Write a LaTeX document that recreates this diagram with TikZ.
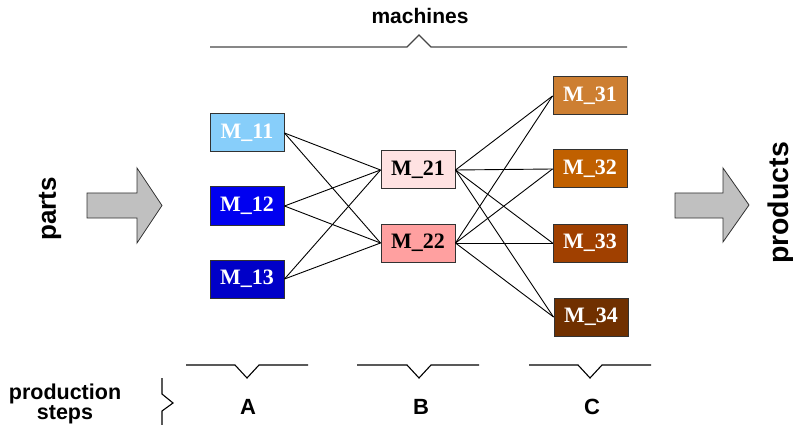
\documentclass[tikz,border=0pt]{standalone}
\usepackage{fontspec}
\setmainfont{Liberation Serif}
\setsansfont{Liberation Sans}
\definecolor{c11}{RGB}{135,206,250}
\definecolor{c12}{RGB}{0,0,240}
\definecolor{c13}{RGB}{0,0,200}
\definecolor{c21}{RGB}{255,226,226}
\definecolor{c22}{RGB}{255,160,160}
\definecolor{c31}{RGB}{205,127,50}
\definecolor{c32}{RGB}{192,96,0}
\definecolor{c33}{RGB}{160,64,0}
\definecolor{c34}{RGB}{112,48,0}
\definecolor{bordergray}{RGB}{50,50,50}
\definecolor{arrowfill}{RGB}{192,192,192}
\definecolor{bracegray}{RGB}{70,70,70}
\begin{document}
\begin{tikzpicture}[x=1pt,y=-1pt,
  machine/.style={draw=bordergray, line width=1pt, minimum width=74pt, minimum height=38pt, inner sep=0pt, font=\fontsize{22}{24}\selectfont\bfseries},
  link/.style={line width=0.9pt, black},
  bigarrow/.style={draw=bordergray, fill=arrowfill, line width=0.8pt, line join=miter},
  label/.style={font=\sffamily\bfseries\fontsize{21}{24}\selectfont, inner sep=0pt},
  bracepath/.style={line width=1.1pt, black}]
\useasboundingbox (0,0) rectangle (793,425);

% machines
\node[machine, fill=c11, text=white] (m11) at (247,133) {M\_11};
\node[machine, fill=c12, text=white] (m12) at (247,206) {M\_12};
\node[machine, fill=c13, text=white] (m13) at (247,279) {M\_13};
\node[machine, fill=c21, text=black] (m21) at (418,170) {M\_21};
\node[machine, fill=c22, text=black] (m22) at (418,243) {M\_22};
\node[machine, fill=c31, text=white] (m31) at (590,96) {M\_31};
\node[machine, fill=c32, text=white] (m32) at (590,169) {M\_32};
\node[machine, fill=c33, text=white] (m33) at (590,243) {M\_33};
\node[machine, fill=c34, text=white] (m34) at (591,317) {M\_34};

% links
\foreach \a in {m11,m12,m13}{
  \foreach \b in {m21,m22}{
    \draw[link] (\a.east) -- (\b.west);
  }
}
\foreach \a in {m21,m22}{
  \foreach \b in {m31,m32,m33,m34}{
    \draw[link] (\a.east) -- (\b.west);
  }
}

% big arrows
\draw[bigarrow] (87,193) -- (137,193) -- (137,168) -- (162,205.5) -- (137,243) -- (137,218) -- (87,218) -- cycle;
\draw[bigarrow] (675,193) -- (723,193) -- (723,168) -- (749,205) -- (723,242) -- (723,218) -- (675,218) -- cycle;

\node[label, font=\sffamily\bfseries\fontsize{26}{28}\selectfont, rotate=90] (parts) at (50,209) {parts};
\node[label, font=\sffamily\bfseries\fontsize{28.5}{30}\selectfont, rotate=90] (products) at (781,203) {products};

% machines brace
\node[label] (machines) at (420,16) {machines};
\draw[line width=1.1pt, bracegray] (210,47) -- (407,47) -- (419,35) -- (431,47) -- (627,47);

% production step braces
\draw[bracepath] (186,365) -- (235,365) -- (247,378) -- (259,365) -- (308,365);
\draw[bracepath] (357,365) -- (407,365) -- (419,378) -- (431,365) -- (479,365);
\draw[bracepath] (529,365) -- (578,365) -- (590,378) -- (602,365) -- (651,365);

\node[label, font=\sffamily\bfseries\fontsize{22}{24}\selectfont] (stepA) at (248,407) {A};
\node[label, font=\sffamily\bfseries\fontsize{22}{24}\selectfont] (stepB) at (421,407) {B};
\node[label, font=\sffamily\bfseries\fontsize{22}{24}\selectfont] (stepC) at (592,407) {C};

\node[label, align=center, font=\sffamily\bfseries\fontsize{21.5}{20.5}\selectfont] (prodsteps) at (65,404) {production\\steps};
\draw[bracepath] (162,378) -- (162,394) -- (173,403) -- (162,411) -- (162,425);
\end{tikzpicture}
\end{document}
